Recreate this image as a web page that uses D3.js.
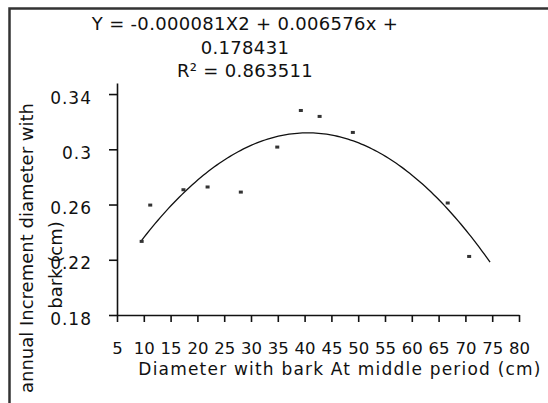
<!DOCTYPE html>
<html>
<head>
    <style>
        body, html {
            margin: 0;
            padding: 0;
            background: #fff;
            overflow: hidden;
        }
        text {
            font-family: "DejaVu Sans", Verdana, sans-serif;
            fill: #111;
        }
    </style>
    <script src="https://d3js.org/d3.v7.min.js"></script>
</head>
<body>

<svg id="chart" width="548" height="403"></svg>

<script>
// observed points (diameter at middle period, annual increment)
const diameters = [9.6, 11.2, 17.4, 21.9, 28.1, 34.9, 39.3, 42.8, 49.0, 66.7, 70.7];
const increments = [0.2333, 0.2596, 0.2707, 0.2727, 0.2690, 0.3016, 0.3281, 0.3238, 0.3122, 0.2611, 0.2224];

// polynomial trendline from the equation shown on the chart
const coeffs = [-0.000081, 0.006576, 0.178431];
const trendRange = [9.6, 74.6];

const xTicks = [5, 10, 15, 20, 25, 30, 35, 40, 45, 50, 55, 60, 65, 70, 75, 80];
const yTicks = [0.18, 0.22, 0.26, 0.3, 0.34];
const yTickLabels = ['0.18', '0.22', '0.26', '0.3', '0.34'];

const titleLines = ['Y = -0.000081X2 + 0.006576x +', '0.178431', 'R² = 0.863511'];
const xTitle = 'Diameter with bark At middle period (cm)';
const yTitleLines = ['annual Increment  diameter with', 'bark (cm)'];

const svg = d3.select('#chart');

// outer frame (left and top edges only visible)
svg.append('path')
    .attr('d', 'M9.5,403V8.5H548')
    .attr('fill', 'none')
    .attr('stroke', '#333')
    .attr('stroke-width', 2.5);

const x = d3.scaleLinear().domain([5, 80]).range([117, 519]);
const y = d3.scaleLinear().domain([0.18, 0.348]).range([315, 83]);

const fontFamily = '"DejaVu Sans", Verdana, sans-serif';

// x axis
const xAxis = svg.append('g')
    .attr('transform', `translate(0,${y(0.18)})`)
    .call(d3.axisBottom(x).tickValues(xTicks).tickSize(7).tickSizeOuter(0).tickFormat(d3.format('d')));
xAxis.selectAll('text')
    .attr('y', 39)
    .attr('dy', 0)
    .style('font-size', '16.5px')
    .style('font-family', fontFamily)
    .attr('fill', '#111');

// y axis
const yAxis = svg.append('g')
    .attr('transform', `translate(${x(5)},0)`)
    .call(d3.axisLeft(y).tickValues(yTicks).tickSize(8).tickSizeOuter(0)
        .tickFormat((d, i) => yTickLabels[i]));
yAxis.selectAll('text')
    .attr('x', -25)
    .attr('dy', 9)
    .style('font-size', '17px')
    .style('letter-spacing', '1px')
    .style('font-family', fontFamily)
    .attr('fill', '#111');

svg.selectAll('.domain, .tick line')
    .attr('stroke', '#111')
    .attr('stroke-width', 1.6);

// trendline
const trend = d3.range(trendRange[0], trendRange[1] + 0.01, 0.5).map(v => [v, coeffs[0] * v * v + coeffs[1] * v + coeffs[2]]);
svg.append('path')
    .datum(trend)
    .attr('fill', 'none')
    .attr('stroke', '#111')
    .attr('stroke-width', 1.3)
    .attr('d', d3.line().x(d => x(d[0])).y(d => y(d[1])));

// points
svg.selectAll('.pt')
    .data(diameters)
    .enter().append('rect')
    .attr('class', 'pt')
    .attr('x', d => x(d) - 2)
    .attr('y', (d, i) => y(increments[i]) - 1.5)
    .attr('width', 4)
    .attr('height', 3)
    .attr('fill', '#333');

// equation title
svg.selectAll('.title')
    .data(titleLines)
    .enter().append('text')
    .attr('class', 'title')
    .attr('x', 245)
    .attr('y', (d, i) => 30 + i * 23.5)
    .attr('text-anchor', 'middle')
    .style('font-size', '18px')
    .style('letter-spacing', '0.3px')
    .text(d => d);

// x title
svg.append('text')
    .attr('x', 340)
    .attr('y', 375)
    .attr('text-anchor', 'middle')
    .style('font-size', '17px')
    .style('letter-spacing', '1.2px')
    .text(xTitle);

// y title (two rotated lines)
svg.append('text')
    .attr('transform', 'translate(33,103) rotate(-90)')
    .attr('text-anchor', 'end')
    .style('font-size', '18px')
    .text(yTitleLines[0]);
svg.append('text')
    .attr('transform', 'translate(62,265) rotate(-90)')
    .attr('text-anchor', 'middle')
    .style('font-size', '18px')
    .text(yTitleLines[1]);
</script>

</body>
</html>
